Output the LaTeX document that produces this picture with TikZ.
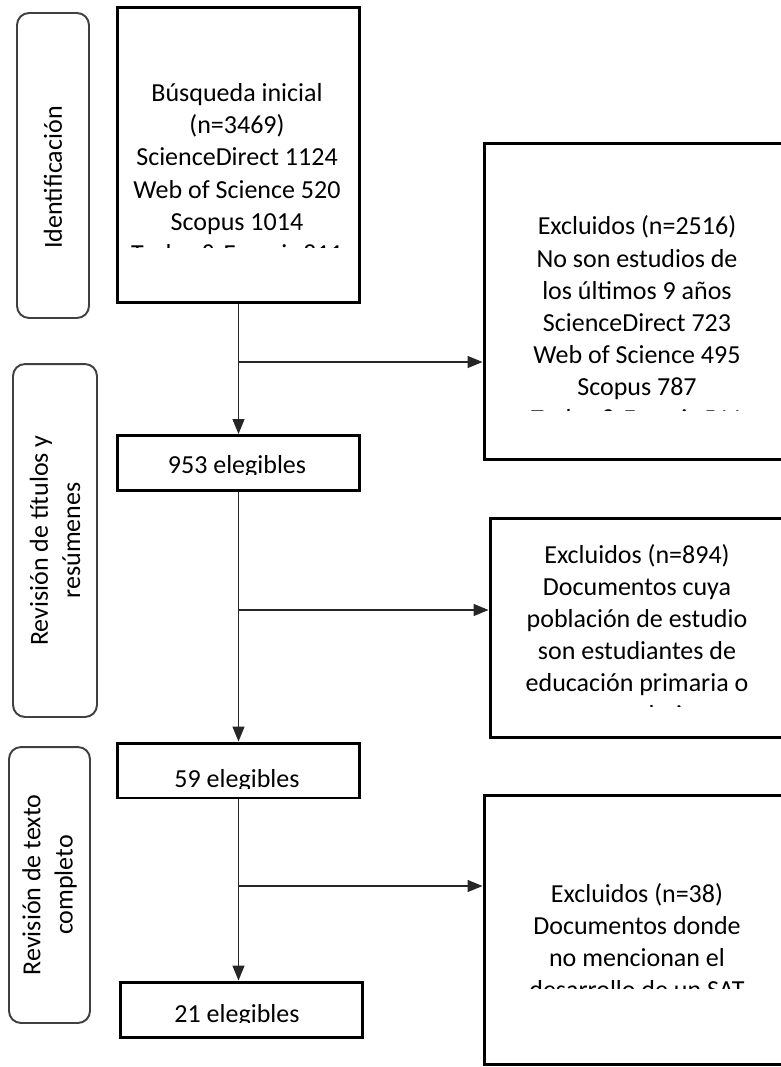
\documentclass[tikz,border=0pt]{standalone}
\usepackage{fontspec}
\setmainfont{Carlito}
\usetikzlibrary{arrows.meta}

\begin{document}
\begin{tikzpicture}[
    x=0.02cm, y=-0.02cm,
    stage/.style={rectangle, draw=black!75, line width=1.1pt, rounded corners=0.24cm, rotate=90, align=center, inner sep=0pt, font=\fontsize{14.8}{18.3}\selectfont},
    box/.style={rectangle, draw, line width=1.7pt, minimum width=4.86cm, minimum height=1.1cm},
    txt/.style={align=center, inner sep=0pt, font=\fontsize{14.8}{18.3}\selectfont},
    arrow/.style={-{Triangle[length=0.3cm,width=0.24cm]}, line width=0.8pt, draw=black!85}
  ]
    \useasboundingbox (0,0) rectangle (780,1067);

    % Stage labels on the left
    \node[stage, minimum width=6.1cm, minimum height=1.44cm] (ident) at (53,165.5) {Identificación\hspace*{0.48cm}};
    \node[stage, minimum width=7.06cm, minimum height=1.68cm] (revtit) at (55,540.5) {Revisión de títulos y\\resúmenes};
    \node[stage, minimum width=5.52cm, minimum height=1.62cm] (revtex) at (49.5,885) {Revisión de texto\\completo};

    % Main column
    \node[box, minimum height=5.92cm] (srch) at (238.5,155) {};
    \node[box] (elig1) at (238.5,463) {};
    \node[box] (elig2) at (238.5,770.5) {};
    \node[box] (elig3) at (241.5,1009.5) {};

    % Excluded column
    \node[box, minimum width=6.12cm, minimum height=6.34cm] (excl1) at (637,301.5) {};
    \node[box, minimum width=6cm, minimum height=4.4cm] (excl2) at (640,628) {};
    \node[box, minimum width=6.12cm, minimum height=5.4cm] (excl3) at (637,930) {};

    % Texts (cut off at the bottom as in the boxes)
    \begin{scope}
      \clip (120,10) rectangle (357,248);
      \node[txt] (srchtxt) at (237,175) {Búsqueda inicial\\(n=3469)\\ScienceDirect 1124\\Web of Science 520\\Scopus 1014\\Taylor \& Francis 811};
    \end{scope}
    \begin{scope}
      \clip (120,438) rectangle (357,474);
      \node[txt] (elig1txt) at (237,467) {953 elegibles};
    \end{scope}
    \begin{scope}
      \clip (120,746) rectangle (357,788);
      \node[txt] (elig2txt) at (237,781) {59 elegibles};
    \end{scope}
    \begin{scope}
      \clip (123,985) rectangle (360,1022);
      \node[txt] (elig3txt) at (237,1016) {21 elegibles};
    \end{scope}
    \begin{scope}
      \clip (487,146) rectangle (788,410);
      \node[txt] (excl1txt) at (637,324) {Excluidos (n=2516)\\No son estudios de\\los últimos 9 años\\ScienceDirect 723\\Web of Science 495\\Scopus 787\\Taylor \& Francis 511};
    \end{scope}
    \begin{scope}
      \clip (493,521) rectangle (788,706);
      \node[txt] (excl2txt) at (637,634) {Excluidos (n=894)\\Documentos cuya\\población de estudio\\son estudiantes de\\educación primaria o\\secundaria};
    \end{scope}
    \begin{scope}
      \clip (487,798) rectangle (788,988);
      \node[txt] (excl3txt) at (637,941) {Excluidos (n=38)\\Documentos donde\\no mencionan el\\desarrollo de un SAT};
    \end{scope}

    % Connectors
    \coordinate (br1) at (238.5,362);
    \coordinate (br2) at (238.5,610);
    \coordinate (br3) at (238.5,886);
    \draw[arrow] (srch.south) -- (elig1.north);
    \draw[arrow] (elig1.south) -- (elig2.north);
    \draw[arrow] (elig2.south) -- (elig2.south |- elig3.north);
    \draw[arrow] (br1) -- (br1 -| excl1.west);
    \draw[arrow] (br2) -- (br2 -| excl2.west);
    \draw[arrow] (br3) -- (br3 -| excl3.west);

  \end{tikzpicture}
\end{document}
